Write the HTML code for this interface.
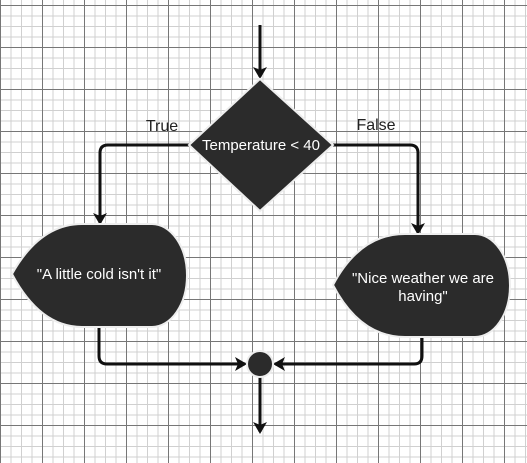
<!DOCTYPE html><html><head><style>
body{margin:0;width:527px;height:463px;overflow:hidden;background:#fff;
background-image:linear-gradient(#777 1px,transparent 1px),linear-gradient(90deg,#777 1px,transparent 1px),linear-gradient(#d0d0d0 1px,transparent 1px),linear-gradient(90deg,#d0d0d0 1px,transparent 1px);
background-size:42px 42px,42px 42px,10.5px 10.5px,10.5px 10.5px;background-position:0 5px,0 0,0 5px,0 0;}
</style></head><body>
<svg width="527" height="463" style="position:absolute;left:0;top:0" font-family="Liberation Sans, sans-serif">
<defs><marker id="a" markerWidth="12" markerHeight="14" refX="10" refY="7" orient="auto" markerUnits="userSpaceOnUse"><path d="M0,0L12,7L0,14L3,7z" fill="#111"/></marker></defs>
<g stroke="#111" stroke-width="3" fill="none">
<path d="M260 25V77" marker-end="url(#a)"/>
<path d="M189 145H108Q100 145 100 153V223" marker-end="url(#a)"/>
<path d="M333 145H410Q418 145 418 153V233" marker-end="url(#a)"/>
<path d="M99 327V356Q99 364 107 364H245" marker-end="url(#a)"/>
<path d="M422 337V356Q422 364 414 364H275" marker-end="url(#a)"/>
<path d="M260 377V432" marker-end="url(#a)"/>
</g>
<g fill="#2b2b2b" stroke="#eee" stroke-width="2">
<path d="M260 79L333 145L260 211L189 145Z"/>
<path d="M12 274Q40 224 82 224H152A35 51.5 0 0 1 152 327H82Q40 327 12 274Z"/>
<path d="M333 285Q360 234 405 234H475A35 51.5 0 0 1 475 337H405Q360 337 333 285Z"/>
<circle cx="260" cy="364" r="13"/>
</g>
<g fill="#fff" font-size="15" text-anchor="middle">
<text x="261" y="150">Temperature &lt; 40</text>
<text x="99" y="279">"A little cold isn't it"</text>
<text x="423" y="283">"Nice weather we are</text>
<text x="423" y="301">having"</text>
</g>
<g fill="#222" font-size="16" text-anchor="middle">
<text x="162" y="131">True</text>
<text x="376" y="130">False</text>
</g>
</svg></body></html>
